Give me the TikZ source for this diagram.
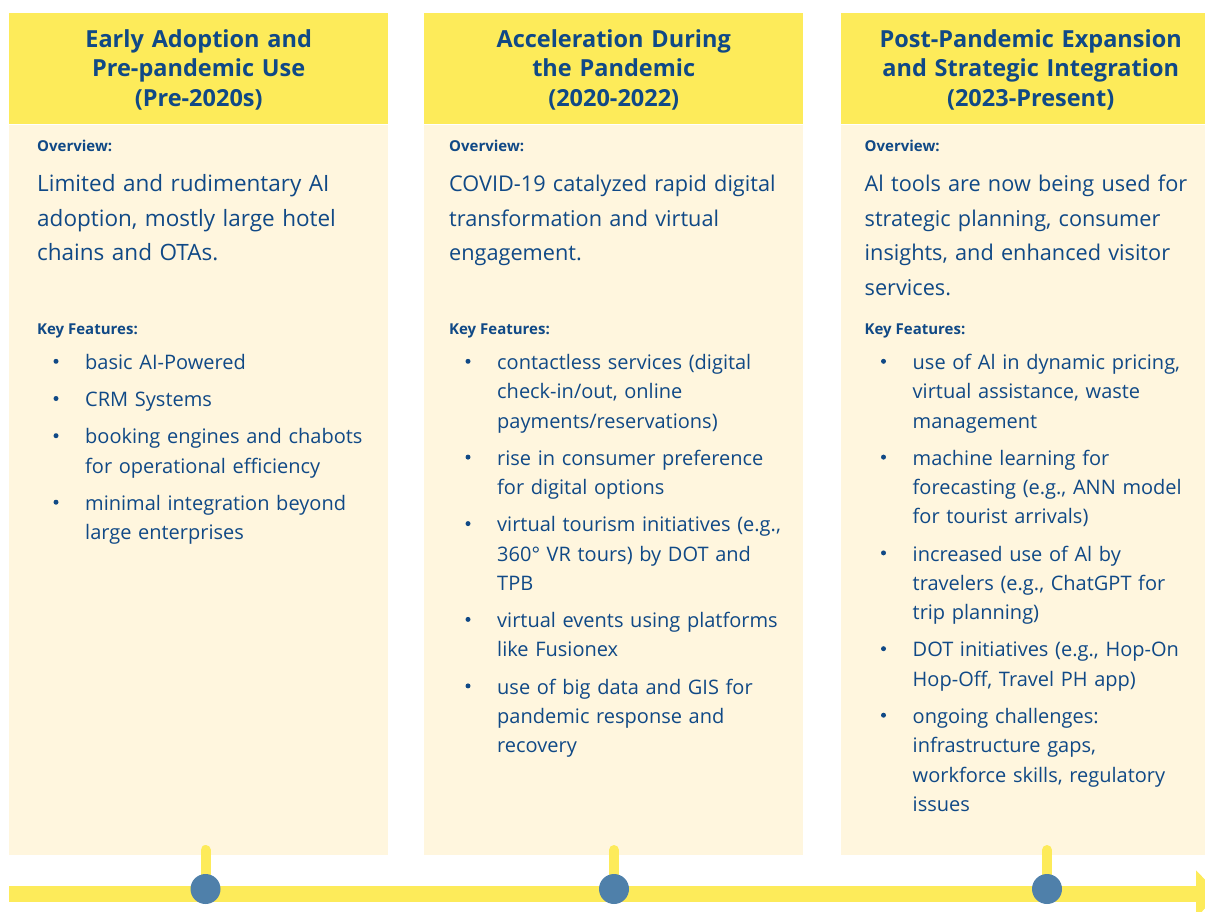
\documentclass[tikz,border=0pt]{standalone}
\usepackage{fontspec}
\setmainfont{Open Sans}
\usetikzlibrary{positioning,arrows.meta}

\definecolor{navy}{RGB}{16,73,134}
\definecolor{sun}{RGB}{253,235,90}
\definecolor{cream}{RGB}{255,246,222}
\definecolor{steel}{RGB}{79,128,170}

\newcommand\featuredot[1]{\node[bulletdot] (#1-dot) at ([xshift=-29pt,yshift=-12.5pt]#1.north west) {};}

\begin{document}
\begin{tikzpicture}[x=1pt, y=-1pt,
	headbox/.style={anchor=north west, fill=sun, minimum width=379pt, minimum height=111pt,
		text width=379pt, inner sep=0pt, align=center, text=navy,
		font=\bfseries\fontsize{23.5}{29.5}\selectfont,
		execute at begin node=\rule{0pt}{24.5pt}, execute at end node=\strut},
	bodybox/.style={fill=cream, minimum width=379pt, minimum height=730pt, inner sep=0pt},
	heading/.style={anchor=base west, inner sep=0pt, text=navy, font=\bfseries\fontsize{15}{18}\selectfont},
	overview/.style={anchor=north west, inner sep=0pt, text width=360pt, align=left, text=navy,
		font=\fontsize{#1}{34.7}\selectfont,
		execute at begin node=\strut, execute at end node=\strut},
	overview/.default=21.7,
	feature/.style={inner sep=0pt, text width=320pt, align=left, text=navy,
		font=\fontsize{20}{29.3}\selectfont,
		execute at begin node=\strut, execute at end node=\strut},
	bulletdot/.style={circle, fill=navy, minimum size=5pt, inner sep=0pt},
	timeline/.style={draw=sun, line width=16pt, -{Triangle[length=23pt, width=46pt]}},
	stub/.style={draw=sun, line width=10pt, line cap=round},
	marker/.style={circle, fill=steel, minimum size=30pt, inner sep=0pt}
]

% canvas %{{{2

	\useasboundingbox (0,0) rectangle (1205,911);

% columns %{{{2

	\foreach \i/\x/\title in {
		1/9/{Early Adoption and\\Pre-pandemic Use\\(Pre-2020s)},
		2/424/{Acceleration During\\the Pandemic\\(2020-2022)},
		3/841/{Post-Pandemic Expansion\\and Strategic Integration\\(2023-Present)}} {
		\node[headbox] (head\i) at (\x,13) {\title};
		\node[bodybox, below=0pt of head\i] (body\i) {};
	}

% column 1 %{{{2

	\node[heading] (ovl1) at ([xshift=28pt, yshift=-27pt]body1.north west) {Overview:};
	\node[overview=22.5, below right=15.7pt and 0pt of ovl1.base west] (ov1)
		{Limited and rudimentary AI\\adoption, mostly large hotel\\chains and OTAs.};

	\node[heading] (kfl1) at ([yshift=-183pt]ovl1.base west) {Key Features:};
	\node[feature, below right=14.4pt and 48pt of kfl1.base west] (f11) {basic AI-Powered};
	\node[feature, below=7.5pt of f11] (f12) {CRM Systems};
	\node[feature, below=7.5pt of f12] (f13) {booking engines and chabots\\for operational efficiency};
	\node[feature, below=7.5pt of f13] (f14) {minimal integration beyond\\large enterprises};

	\foreach \n in {f11,f12,f13,f14} { \featuredot{\n} }

% column 2 %{{{2

	\node[heading] (ovl2) at ([xshift=25pt, yshift=-27pt]body2.north west) {Overview:};
	\node[overview, below right=15.7pt and 0pt of ovl2.base west] (ov2)
		{COVID-19 catalyzed rapid digital\\transformation and virtual\\engagement.};

	\node[heading] (kfl2) at ([yshift=-183pt]ovl2.base west) {Key Features:};
	\node[feature, below right=14.4pt and 48pt of kfl2.base west] (f21)
		{contactless services (digital\\check-in/out, online\\payments/reservations)};
	\node[feature, below=7.5pt of f21] (f22) {rise in consumer preference\\for digital options};
	\node[feature, below=7.5pt of f22] (f23) {virtual tourism initiatives (e.g.,\\360° VR tours) by DOT and\\TPB};
	\node[feature, below=7.5pt of f23] (f24) {virtual events using platforms\\like Fusionex};
	\node[feature, below=7.5pt of f24] (f25) {use of big data and GIS for\\pandemic response and\\recovery};

	\foreach \n in {f21,f22,f23,f24,f25} { \featuredot{\n} }

% column 3 %{{{2

	\node[heading] (ovl3) at ([xshift=23.5pt, yshift=-27pt]body3.north west) {Overview:};
	\node[overview, below right=15.7pt and 0pt of ovl3.base west] (ov3)
		{Al tools are now being used for\\strategic planning, consumer\\insights, and enhanced visitor\\services.};

	\node[heading] (kfl3) at ([yshift=-183pt]ovl3.base west) {Key Features:};
	\node[feature, below right=14.4pt and 48pt of kfl3.base west] (f31)
		{use of Al in dynamic pricing,\\virtual assistance, waste\\management};
	\node[feature, below=7.5pt of f31] (f32) {machine learning for\\forecasting (e.g., ANN model\\for tourist arrivals)};
	\node[feature, below=7.5pt of f32] (f33) {increased use of Al by\\travelers (e.g., ChatGPT for\\trip planning)};
	\node[feature, below=7.5pt of f33] (f34) {DOT initiatives (e.g., Hop-On\\Hop-Off, Travel PH app)};
	\node[feature, below=7.5pt of f34] (f35)
		{ongoing challenges:\\infrastructure gaps,\\workforce skills, regulatory\\issues};

	\foreach \n in {f31,f32,f33,f34,f35} { \featuredot{\n} }

% timeline %{{{2

	\coordinate (tl0) at (9,894);
	\coordinate (tl1) at (1219,894);
	\draw[timeline] (tl0) -- (tl1);

	\foreach \i/\m in {1/205.5, 2/614, 3/1047} {
		\coordinate (top\i) at (\m,850);
		\coordinate (pin\i) at (\m,889);
		\draw[stub] (top\i) -- (pin\i);
		\node[marker] (m\i) at (pin\i) {};
	}

% closing %{{{2

\end{tikzpicture}
\end{document}
